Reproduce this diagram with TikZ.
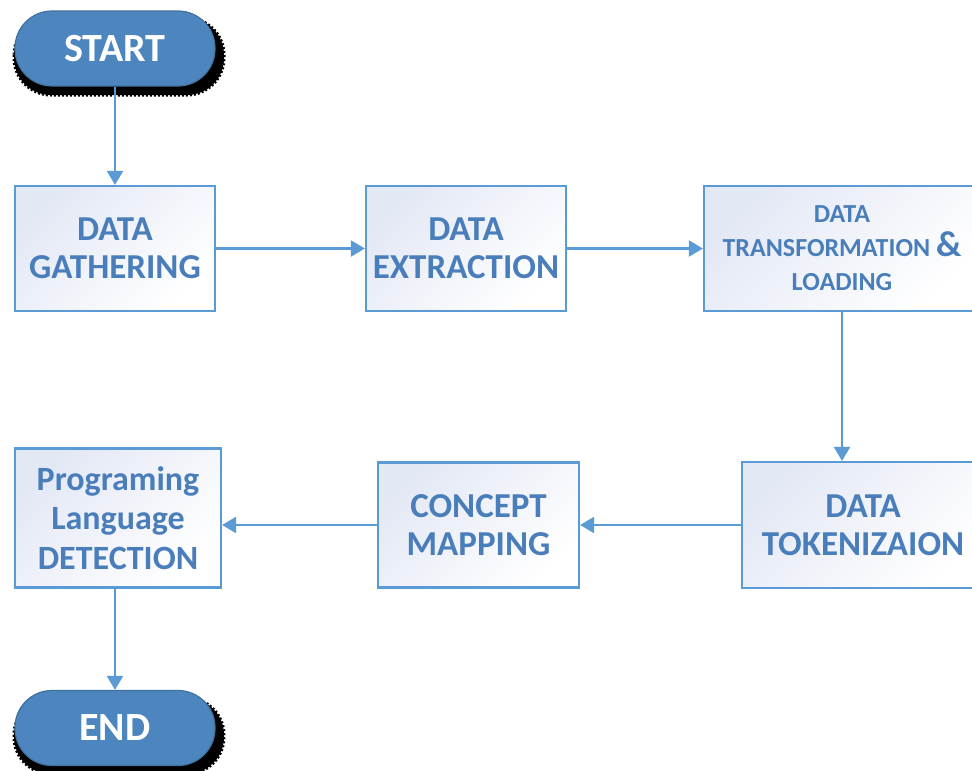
\documentclass[tikz,border=0pt]{standalone}
\usepackage{fontspec}
\setmainfont{Carlito}
\usetikzlibrary{arrows.meta}
\definecolor{lineblue}{HTML}{5B9BD5}
\definecolor{textblue}{HTML}{4A7EBB}
\definecolor{termfill}{HTML}{4D85BF}
\definecolor{termedge}{HTML}{41719C}
\definecolor{boxtint}{HTML}{E3E8F5}
\begin{document}
\begin{tikzpicture}[x=1pt,y=-1pt,
  flowbox/.style={draw=lineblue, line width=2.2pt,
    top color=boxtint, bottom color=white, shading angle=45,
    minimum height=125pt, inner sep=0pt, align=center,
    text=textblue, font=\fontsize{35}{38}\selectfont\bfseries},
  terminal/.style={draw=termedge, line width=1.2pt, fill=termfill,
    rounded corners=37pt, minimum width=200pt, minimum height=75pt,
    inner sep=0pt, text=white, font=\fontsize{40}{44}\selectfont\bfseries},
  termshadow/.style={fill=black, draw=black, line width=3pt,
    dash pattern=on 2pt off 2pt, rounded corners=37pt},
  conn/.style={draw=lineblue, line width=2.2pt,
    -{Triangle[width=16pt,length=14pt]}}]
\useasboundingbox (0,0) rectangle (972,771);
\clip (0,0) rectangle (972,771);
\fill[white] (0,0) rectangle (972,771);

% ragged shadows under the two terminals
\draw[termshadow] (14,18) rectangle (224,95);
\draw[termshadow] (14,698) rectangle (224,774);

% terminals
\node[terminal] (start) at (115,48.5) {START};
\node[terminal] (stop) at (115,728) {END};

% process boxes
\node[flowbox, minimum width=200pt] (gather) at (115,248.5) {DATA\\GATHERING};
\node[flowbox, minimum width=200pt] (extract) at (466,248.5) {DATA\\EXTRACTION};
\node[flowbox, minimum width=276pt, font=\fontsize{26}{34}\selectfont\bfseries]
  (transform) at (842,248.5)
  {DATA\\TRANSFORMATION {\fontsize{36}{34}\selectfont\&}\\LOADING};
\node[flowbox, minimum width=242pt, minimum height=126pt] (token) at (863,525) {DATA\\TOKENIZAION};
\node[flowbox, minimum width=201pt] (concept) at (478.5,525) {CONCEPT\\MAPPING};
\node[flowbox, minimum width=206pt, minimum height=139pt,
  font=\fontsize{34}{39.5}\selectfont\bfseries] (detect) at (118,518)
  {Programing\\Language\\DETECTION};

% connectors
\draw[conn] (start) -- (gather);
\draw[conn] (gather) -- (extract);
\draw[conn] (extract) -- (transform);
\draw[conn] (transform.south) -- (transform.south |- token.north);
\draw[conn] (token) -- (concept);
\draw[conn] (concept.west) -- (concept.west -| detect.east);
\draw[conn] (detect.south -| stop.north) -- (stop.north);
\end{tikzpicture}
\end{document}
